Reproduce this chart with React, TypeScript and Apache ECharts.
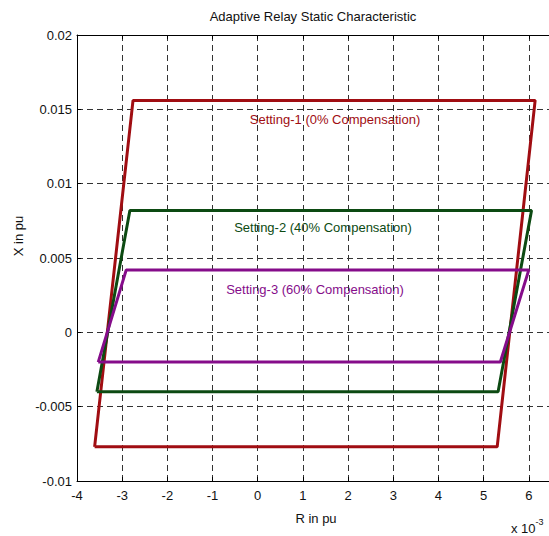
import React, { useEffect, useRef } from "react";
import * as echarts from "echarts";

const titleText = "Adaptive Relay Static Characteristic";
const xAxisName = "R in pu";
const yAxisName = "X in pu";

// R values in units of 1e-3 pu, X values in pu
const setting1R = [-3.61, -2.76, 6.14, 5.3, -3.61];
const setting1X = [-0.0077, 0.0156, 0.0156, -0.0077, -0.0077];
const setting2R = [-3.56, -2.83, 6.06, 5.32, -3.56];
const setting2X = [-0.004, 0.0082, 0.0082, -0.004, -0.004];
const setting3R = [-3.53, -2.91, 6.0, 5.37, -3.53];
const setting3X = [-0.002, 0.0042, 0.0042, -0.002, -0.002];

const seriesNames = [
  "Setting-1 (0% Compensation)",
  "Setting-2 (40% Compensation)",
  "Setting-3 (60% Compensation)",
];
const seriesColors = ["#a00d12", "#0c4a12", "#850c8a"];

const FONT = "'Liberation Sans', Arial, Helvetica, sans-serif";

function pairs(r: number[], x: number[]) {
  return r.map((v, i) => [v, x[i]]);
}

export default function App() {
  const ref = useRef<HTMLDivElement>(null);
  useEffect(() => {
    if (!ref.current) return;
    const chart = echarts.init(ref.current, undefined, { renderer: "svg" });
    const gridLine = { show: true, lineStyle: { color: "#333", type: [6, 4] as any, width: 1 } };
    const lineSeries = (name: string, data: number[][], color: string) => ({
      type: "line",
      name,
      data,
      showSymbol: false,
      symbol: "none",
      lineStyle: { color, width: 3 },
      z: 3,
    });
    chart.setOption({
      animation: false,
      backgroundColor: "#fff",
      grid: {
        left: 77,
        top: 35,
        height: 446,
        width: 497,
        containLabel: false,
        outerBoundsMode: "none",
      } as any,
      xAxis: [
        {
          type: "value",
          min: -4,
          max: 7,
          interval: 1,
          axisLine: { show: true, onZero: false, lineStyle: { color: "#000", width: 1 } },
          axisTick: { show: true, inside: true, length: 4, lineStyle: { color: "#000" } },
          axisLabel: {
            color: "#111",
            fontFamily: FONT,
            fontSize: 13,
            margin: 8,
            formatter: (v: number) => (v === 7 ? "" : String(v)),
          },
          splitLine: gridLine,
        },
        {
          type: "value",
          position: "top",
          min: -4,
          max: 7,
          interval: 1,
          axisLine: { show: true, onZero: false, lineStyle: { color: "#000", width: 1 } },
          axisTick: { show: true, inside: true, length: 4, lineStyle: { color: "#000" } },
          axisLabel: { show: false },
          splitLine: { show: false },
        },
      ],
      yAxis: {
        type: "value",
        min: -0.01,
        max: 0.02,
        interval: 0.005,
        axisLine: { show: true, onZero: false, lineStyle: { color: "#000", width: 1 } },
        axisTick: { show: true, inside: true, length: 4, lineStyle: { color: "#000" } },
        axisLabel: {
          color: "#111",
          fontFamily: FONT,
          fontSize: 13,
          margin: 5,
          formatter: (v: number) => String(parseFloat(v.toFixed(4))),
        },
        splitLine: gridLine,
      },
      series: [
        lineSeries(seriesNames[0], pairs(setting1R, setting1X), seriesColors[0]),
        lineSeries(seriesNames[1], pairs(setting2R, setting2X), seriesColors[1]),
        lineSeries(seriesNames[2], pairs(setting3R, setting3X), seriesColors[2]),
      ],
      graphic: [
        {
          type: "text",
          x: 313,
          y: 16,
          style: { text: titleText, fill: "#111", font: `13px ${FONT}`, textAlign: "center", textVerticalAlign: "middle" },
        },
        {
          type: "text",
          x: 316,
          y: 518,
          style: { text: xAxisName, fill: "#111", font: `13px ${FONT}`, textAlign: "center", textVerticalAlign: "middle" },
        },
        {
          type: "text",
          x: 18,
          y: 236,
          rotation: Math.PI / 2,
          style: { text: yAxisName, fill: "#111", font: `13px ${FONT}`, textAlign: "center", textVerticalAlign: "middle" },
        },
        {
          type: "text",
          x: 511,
          y: 526,
          style: {
            text: "{b|x 10}{s|-3}",
            rich: {
              b: { fill: "#111", fontFamily: FONT, fontSize: 13, verticalAlign: "bottom" },
              s: { fill: "#111", fontFamily: FONT, fontSize: 9, verticalAlign: "top", padding: [0, 0, 8, 0] },
            },
            textVerticalAlign: "middle",
          } as any,
        },
        {
          type: "text",
          x: 335,
          y: 119,
          style: { text: seriesNames[0], fill: seriesColors[0], font: `13px ${FONT}`, textAlign: "center", textVerticalAlign: "middle" },
        },
        {
          type: "text",
          x: 323,
          y: 227,
          style: { text: seriesNames[1], fill: seriesColors[1], font: `13px ${FONT}`, textAlign: "center", textVerticalAlign: "middle" },
        },
        {
          type: "text",
          x: 315,
          y: 289,
          style: { text: seriesNames[2], fill: seriesColors[2], font: `13px ${FONT}`, textAlign: "center", textVerticalAlign: "middle" },
        },
      ],
    });
    return () => chart.dispose();
  }, []);
  return (
    <div
      ref={ref}
      style={{ position: "fixed", left: 0, top: 0, width: 549, height: 536, background: "#fff" }}
    />
  );
}
